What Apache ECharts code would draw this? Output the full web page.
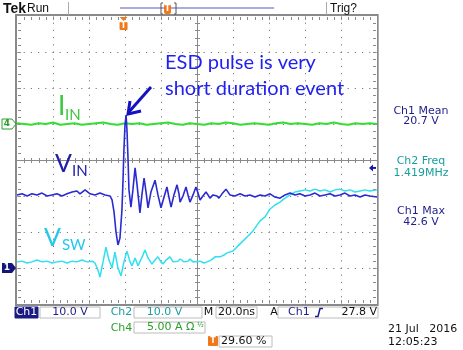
<!DOCTYPE html>
<html><head><meta charset="utf-8">
<script src="https://cdn.jsdelivr.net/npm/echarts@6/dist/echarts.min.js"></script>
<style>html,body{margin:0;padding:0;background:#fff}#c{width:463px;height:350px}</style>
</head><body><div id="c"></div>
<script>
// ---- data (time in ns, Ch1/Ch2 in V, Ch4 in A) ----
const vinT = [0,2.8,5.6,8.3,11.1,13.9,16.7,19.4,22.2,25.0,27.8,30.6,33.3,35.0,37.8,40.6,43.3,46.1,48.9,51.7,52.8,53.9,55.0,56.1,57.2,58.3,58.9,59.4,60.0,60.6,61.1,61.7,62.2,63.3,64.4,65.6,66.7,68.3,69.4,70.6,71.7,72.8,74.4,76.7,78.3,80.0,81.7,83.3,84.4,85.6,87.2,88.9,90.0,90.6,92.2,93.9,95.0,96.1,97.8,99.4,100.6,101.7,103.3,105.0,106.1,107.2,108.9,110.0,111.1,112.2,113.9,116.1,118.3,121.1,123.9,126.7,129.4,132.2,135.0,137.8,140.6,143.3,146.1,148.9,151.7,154.4,157.2,160.0,162.8,165.6,168.3,171.1,173.9,176.7,179.4,182.2,185.0,187.8,190.6,193.3,196.1,200.0];
const vinV = [20.3,20.6,20.0,20.6,20.3,20.8,20.0,20.3,20.6,20.0,20.6,21.1,21.4,20.6,21.7,20.6,20.3,20.8,20.3,20.0,18.9,15.6,10.0,6.4,8.3,16.1,24.4,32.8,39.7,42.5,38.3,30.0,21.7,16.9,21.7,27.8,23.1,15.3,20.3,25.0,21.1,16.7,21.1,24.4,20.3,16.7,19.7,22.5,19.7,16.9,20.3,23.1,20.6,18.3,20.0,22.5,20.3,18.3,20.3,22.5,20.8,18.9,20.0,21.1,20.3,19.4,20.3,20.8,20.0,19.4,20.6,21.9,20.3,20.0,20.6,20.0,20.3,19.7,20.3,20.0,20.6,19.7,19.4,20.3,20.8,20.3,20.6,20.0,20.3,20.8,20.0,20.3,20.6,20.0,20.3,20.8,20.0,20.3,19.7,20.3,20.0,19.7];
const vswT = [0,2.8,5.6,8.3,11.1,13.9,16.7,19.4,22.2,25.0,27.8,30.6,33.3,36.1,38.9,41.7,43.3,45.0,46.1,47.8,49.4,51.1,52.8,54.4,56.1,57.8,59.4,61.1,62.8,63.9,65.6,67.2,68.3,70.0,71.1,72.8,75.0,76.7,78.3,80.0,81.1,82.8,85.0,86.7,87.8,89.4,90.6,92.8,95.0,96.1,97.8,98.9,101.7,103.9,105.6,107.8,110.0,112.8,115.0,116.7,120.0,123.9,127.8,131.1,135.0,137.8,140.6,143.3,146.1,148.9,151.7,154.4,157.2,160.0,162.8,165.6,168.3,171.1,173.9,176.7,179.4,182.2,185.0,187.8,190.6,193.3,196.1,200.0];
const vswV = [1.7,1.9,1.4,1.7,2.2,1.7,1.9,1.4,1.7,1.9,1.4,1.9,1.7,2.2,1.7,1.9,1.4,-0.6,-2.5,1.7,5.8,2.2,0.0,4.4,0.0,-2.2,1.7,4.7,1.7,0.6,2.8,0.6,0.3,3.6,5.0,2.8,1.1,2.2,3.1,1.7,1.1,2.2,3.1,1.7,1.4,1.9,2.5,1.7,1.9,2.5,1.7,1.4,1.9,1.4,1.7,2.2,3.1,3.1,3.6,4.2,4.7,6.7,8.6,10.3,13.1,14.2,16.4,17.5,18.3,19.4,20.3,21.1,21.4,21.7,21.4,21.9,21.4,21.7,21.1,21.7,21.9,21.4,21.7,21.1,21.4,21.7,21.4,21.7];
const iinT = [0,4,8,12,16,20,24,28,32,36,40,44,48,52,56,60,64,68,72,76,80,84,88,92,96,100,104,108,112,116,120,124,128,132,136,140,144,148,152,156,160,164,168,172,176,180,184,188,192,196,200];
const iinA = [0.1,0.0,-0.1,0.1,0.0,0.2,-0.1,0.0,0.1,-0.1,0.0,0.1,0.2,0.0,-0.1,0.1,0.0,0.1,-0.1,0.0,0.1,0.2,0.0,-0.1,0.1,0.0,-0.1,0.1,0.0,0.2,0.1,-0.1,0.0,0.1,0.0,-0.1,0.1,0.2,0.0,0.1,0.0,-0.1,0.1,0.0,0.2,0.0,-0.1,0.1,0.0,0.1,0.0];
// scope settings
const timeRange = [0, 200], timeDiv = 20;
const voltRange = [-10, 70], voltDiv = 10;
const ampRange = [-25, 15], ampDiv = 5;
const trigLevel = 27.8, trigPosPct = 29.6;
const readouts = [["Ch1 Mean","20.7 V"],["Ch2 Freq","1.419MHz"],["Ch1 Max","42.6 V"]];

const zip = (a, b) => a.slice(0, Math.min(a.length, b.length)).map((t, i) => [t, b[i]]);
const GRAY = '#8a8a8a';
const UI = 'DejaVu Sans';
const NAVY = '#1e1e8a', TEAL = '#1a9e9e', GREEN = '#2aa02a', ORANGE = '#f07818';

const chart = echarts.init(document.getElementById('c'));
chart.setOption({
  animation: false,
  grid: {left: 17, top: 16, width: 360, height: 288},
  xAxis: [{type: 'value', show: false, min: timeRange[0], max: timeRange[1], interval: timeDiv}],
  yAxis: [
    {type: 'value', show: false, min: voltRange[0], max: voltRange[1], interval: voltDiv},
    {type: 'value', show: false, min: ampRange[0], max: ampRange[1], interval: ampDiv}
  ],
  series: [
    {name: 'Vsw', type: 'line', data: zip(vswT, vswV), showSymbol: false, symbol: 'none',
      lineStyle: {color: '#30dff0', width: 1.5}},
    {name: 'Iin', type: 'line', data: zip(iinT, iinA), yAxisIndex: 1, showSymbol: false, symbol: 'none',
      lineStyle: {color: '#33dd33', width: 2}},
    {name: 'Vin', type: 'line', data: zip(vinT, vinV), showSymbol: false, symbol: 'none',
      lineStyle: {color: '#2a2ad2', width: 1.6}}
  ]
});

// ---- scope decorations ----
const px = v => chart.convertToPixel({xAxisIndex: 0}, v);
const pyV = v => chart.convertToPixel({yAxisIndex: 0}, v);
const pyA = v => chart.convertToPixel({yAxisIndex: 1}, v);
function txt(s, x, y, o) {
  o = o || {};
  return {type: 'text', x: x, y: y, z: 100, style: {
    text: s, fill: o.fill || '#111', font: (o.weight || 'normal') + ' ' + (o.size || 11) + 'px ' + (o.family || UI),
    align: o.align || 'left', verticalAlign: o.va || 'middle',
    textAlign: o.align || 'left', textVerticalAlign: o.va || 'middle'}};
}
function box(x, y, w, h, fill, stroke) {
  return {type: 'rect', z: 90, shape: {x: x, y: y, width: w, height: h},
    style: {fill: fill || '#fff', stroke: stroke || '#bcbcbc', lineWidth: 1}};
}
function ln(x1, y1, x2, y2, c, w) {
  return {type: 'line', z: 95, shape: {x1: x1, y1: y1, x2: x2, y2: y2}, style: {stroke: c, lineWidth: w || 1}};
}
function px1(x, y, w, h, c) {
  return {type: 'rect', z: 0, silent: true, shape: {x: x, y: y, width: w, height: h}, style: {fill: c}};
}
const g = [];
// graticule
const X0 = px(timeRange[0]), X1 = px(timeRange[1]), Y0 = pyV(voltRange[1]), Y1 = pyV(voltRange[0]);
const nx = (timeRange[1] - timeRange[0]) / timeDiv, ny = (voltRange[1] - voltRange[0]) / voltDiv;
const dx = (X1 - X0) / nx, dy = (Y1 - Y0) / ny, sub = 5;
const DOT = '#7a7a7a';
const step = dy / sub;
for (let i = 1; i < nx; i++) {
  if (i === nx / 2) continue;
  const x = Math.round(X0 + i * dx) + 0.5;
  g.push({type: 'line', z: 0, silent: true, shape: {x1: x, y1: Y0, x2: x, y2: Y1},
    style: {stroke: DOT, lineWidth: 1, lineDash: [1.2, step - 1.2], lineDashOffset: 0.6}});
}
for (let j = 1; j < ny; j++) {
  if (j === ny / 2) continue;
  const y = Math.round(Y0 + j * dy) + 0.5;
  g.push({type: 'line', z: 0, silent: true, shape: {x1: X0, y1: y, x2: X1, y2: y},
    style: {stroke: DOT, lineWidth: 1, lineDash: [1.2, step - 1.2], lineDashOffset: 0.6}});
}
const CX = Math.round(X0 + nx / 2 * dx), CY = Math.round(Y0 + ny / 2 * dy);
g.push(px1(CX, Y0, 1, Y1 - Y0, GRAY));
g.push(px1(X0, CY, X1 - X0, 1, GRAY));
for (let j = 1; j < ny * sub; j++) {
  const y = Math.round(Y0 + j * dy / sub);
  g.push(px1(CX - 2, y, 5, 1, GRAY));
  g.push(px1(X0 + 1, y, 3, 1, GRAY));
  g.push(px1(X1 - 4, y, 3, 1, GRAY));
}
for (let i = 1; i < nx * sub; i++) {
  const x = Math.round(X0 + i * dx / sub);
  g.push(px1(x, CY - 2, 1, 5, GRAY));
  g.push(px1(x, Y0 + 1, 1, 3, GRAY));
  g.push(px1(x, Y1 - 4, 1, 3, GRAY));
}
g.push({type: 'rect', z: 0, silent: true, shape: {x: X0 - 1, y: Y0 - 1, width: X1 - X0 + 2, height: Y1 - Y0 + 2},
  style: {fill: null, stroke: GRAY, lineWidth: 2}});
g.push(px1(X1 + 1, Y0 - 2, 1, Y1 - Y0 + 4, '#b0b0b0'));
// top bar
g.push(txt('Tek', 3, 9, {weight: 'bold', size: 14, family: 'Liberation Sans'}));
g.push(txt('Run', 27, 9, {size: 12, family: 'Liberation Sans'}));
g.push(ln(68.5, 2, 68.5, 15, '#aaa'));
g.push(ln(326.5, 2, 326.5, 15, '#aaa'));
g.push(txt('Trig?', 330, 9, {size: 12, family: 'Liberation Sans'}));
g.push(ln(120, 8, 274, 8, '#8f8fd8', 1.5));
g.push({type: 'polyline', z: 96, shape: {points: [[163, 3], [161, 3], [161, 14], [163, 14]]}, style: {stroke: '#555', lineWidth: 1, fill: null}});
g.push({type: 'polyline', z: 96, shape: {points: [[174, 3], [176, 3], [176, 14], [174, 14]]}, style: {stroke: '#555', lineWidth: 1, fill: null}});
g.push({type: 'rect', z: 97, shape: {x: 164, y: 4, width: 7, height: 10, r: 2}, style: {fill: ORANGE}});
g.push(txt('T', 167.5, 9, {fill: '#fff', size: 8, weight: 'bold', align: 'center'}));
// trigger position marker
const tx = px(timeRange[0] + (timeRange[1] - timeRange[0]) * trigPosPct / 100);
g.push({type: 'polygon', z: 97, shape: {points: [[tx - 4, 17], [tx + 4, 17], [tx, 21]]}, style: {fill: ORANGE}});
g.push({type: 'rect', z: 97, shape: {x: tx - 4, y: 22, width: 8, height: 8, r: 1}, style: {fill: ORANGE}});
g.push(txt('T', tx, 26, {fill: '#fff', size: 8, weight: 'bold', align: 'center'}));
// channel ground markers
const y4 = pyA(0), y1 = pyV(0);
g.push({type: 'polygon', z: 97, shape: {points: [[2, y4 - 5], [12, y4 - 5], [16, y4], [12, y4 + 5], [2, y4 + 5]]}, style: {fill: '#fff', stroke: '#2aa02a', lineWidth: 1}});
g.push(txt('4', 7, y4, {fill: '#2aa02a', size: 9, weight: 'bold', align: 'center'}));
g.push({type: 'polygon', z: 97, shape: {points: [[2, y1 - 5], [12, y1 - 5], [16, y1], [12, y1 + 5], [2, y1 + 5]]}, style: {fill: '#14147a'}});
g.push(txt('1', 7, y1, {fill: '#fff', size: 9, weight: 'bold', align: 'center'}));
// trigger level arrow
const yt = pyV(trigLevel);
g.push({type: 'polygon', z: 97, shape: {points: [[369, yt], [373, yt - 3.5], [373, yt + 3.5]]}, style: {fill: '#1a1a9a'}});
g.push(ln(372, yt, 376, yt, '#1a1a9a', 2));
// right readouts
const rY = [[111, 121.5, NAVY], [161.5, 173, TEAL], [211.5, 222.5, NAVY]];
readouts.forEach((r, i) => {
  g.push(txt(r[0], 421, rY[i][0], {fill: rY[i][2], align: 'center'}));
  g.push(txt(r[1], 421, rY[i][1], {fill: rY[i][2], align: 'center'}));
});
// bottom rows
g.push(box(15, 307, 23, 11, '#1a1a80', '#1a1a80'));
g.push(txt('Ch1', 26.5, 312.5, {fill: '#fff', align: 'center'}));
g.push(box(40, 307, 60, 11));
g.push(txt('10.0 V', 70, 312.5, {fill: NAVY, align: 'center'}));
g.push(txt('Ch2', 121.5, 312.5, {fill: TEAL, align: 'center'}));
g.push(box(134, 307, 68, 11));
g.push(txt('10.0 V', 164.5, 312.5, {fill: TEAL, align: 'center'}));
g.push(txt('M', 208.5, 312.5, {align: 'center'}));
g.push(box(216, 307, 41, 11));
g.push(txt('20.0ns', 236.5, 312.5, {align: 'center'}));
g.push(txt('A', 274, 312.5, {align: 'center'}));
g.push(box(278, 307, 100, 11));
g.push(txt('Ch1', 288, 312.5, {fill: NAVY}));
g.push({type: 'polyline', z: 96, shape: {points: [[315, 316.5], [318, 316.5], [320, 308.5], [323, 308.5]]}, style: {stroke: NAVY, lineWidth: 1.5, fill: null}});
g.push(txt('27.8 V', 377, 312.5, {align: 'right'}));
g.push(txt('Ch4', 121.5, 328, {fill: GREEN, align: 'center'}));
g.push(box(134, 322, 71, 11));
g.push(txt('5.00 A Ω', 147, 327.5, {fill: GREEN}));
g.push(txt('½', 197, 325.5, {fill: GREEN, size: 7}));
g.push({type: 'rect', z: 97, shape: {x: 208, y: 336, width: 10, height: 10, r: 1}, style: {fill: ORANGE}});
g.push(txt('T', 213, 341, {fill: '#fff', size: 8, weight: 'bold', align: 'center'}));
g.push(box(219, 336, 53, 11));
g.push(txt('29.60 %', 221, 341.5));
g.push(txt('21 Jul   2016', 388, 329));
g.push(txt('12:05:23', 388, 342));
// annotations
const ANN = 'Lato';
g.push(txt('ESD pulse is very', 165, 63, {fill: '#1f1ff0', size: 20, family: ANN}));
g.push(txt('short duration event', 165, 89, {fill: '#1f1ff0', size: 20, family: ANN}));
g.push(ln(151, 87, 128, 113, '#1212c4', 3));
g.push({type: 'polyline', z: 96, shape: {points: [[130, 101], [128, 114], [141, 111]]}, style: {stroke: '#1212c4', lineWidth: 3, fill: null}});
g.push(txt('I', 58, 107, {fill: '#3cc83c', size: 26, family: ANN}));
g.push(txt('IN', 65, 115.5, {fill: '#3cc83c', size: 15, family: ANN}));
g.push(txt('V', 55, 164, {fill: '#2020a8', size: 25, family: ANN}));
g.push(txt('IN', 72, 171, {fill: '#2020a8', size: 15, family: ANN}));
g.push(txt('V', 44, 238, {fill: '#22c8ec', size: 25, family: ANN}));
g.push(txt('SW', 62, 245, {fill: '#22c8ec', size: 15, family: ANN}));
chart.setOption({graphic: {elements: g}});
</script></body></html>
